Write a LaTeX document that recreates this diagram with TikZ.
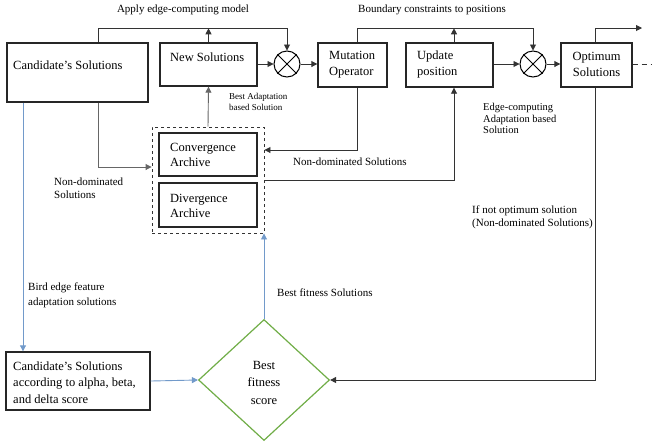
\documentclass[tikz,border=0pt]{standalone}
\usepackage{fontspec}
\setmainfont{Liberation Serif}
\usetikzlibrary{arrows.meta,shapes.geometric,calc}
\definecolor{bluearr}{RGB}{79,129,189}
\definecolor{greendia}{RGB}{112,173,71}
\begin{document}
\begin{tikzpicture}[x=1pt,y=-1pt,
  box/.style={draw=black!85,line width=1.4pt,inner sep=0pt},
  boxtxt/.style={font=\fontsize{12.5}{15.5}\selectfont,align=left,inner sep=0pt},
  lbl/.style={font=\fontsize{11}{13}\selectfont,align=left,inner sep=0pt},
  slbl/.style={font=\fontsize{9}{11}\selectfont,align=left,inner sep=0pt},
  conn/.style={draw=black!80,line width=0.9pt},
  gconn/.style={draw=black!60,line width=0.9pt},
  arr/.style={-{Triangle[length=6pt,width=6pt]}},
  bconn/.style={draw=bluearr!80,line width=0.9pt,-{Triangle[length=6pt,width=6pt]}},
  mix/.style={circle,draw=black,line width=1pt,minimum size=26pt,inner sep=0pt}]
\useasboundingbox (0,0) rectangle (652,445);

% boxes
\node[box,minimum width=141pt,minimum height=59pt] (cand) at (77.5,72.5) {};
\node[box,minimum width=97pt,minimum height=43pt] (new) at (208.5,64.5) {};
\node[box,minimum width=69pt,minimum height=44pt] (mut) at (352.5,65) {};
\node[box,minimum width=87pt,minimum height=44pt] (upd) at (449.5,65) {};
\node[box,minimum width=71pt,minimum height=44pt] (opt) at (596.5,65) {};
\node[mix] (m1) at (287,64) {};
\node[mix] (m2) at (533,64) {};
\draw[line width=1pt] (m1.north east) -- (m1.south west) (m1.north west) -- (m1.south east);
\draw[line width=1pt] (m2.north east) -- (m2.south west) (m2.north west) -- (m2.south east);
\node[draw=black!80,dashed,line width=0.9pt,minimum width=112pt,minimum height=106pt,inner sep=0pt] (arch) at (208,180) {};
\node[box,minimum width=98pt,minimum height=43pt] (conv) at (208,154.5) {};
\node[box,minimum width=98pt,minimum height=44pt] (div) at (208,205) {};
\node[box,minimum width=144pt,minimum height=58pt] (cand2) at (78,381) {};
\node[diamond,draw=greendia,line width=1.2pt,minimum width=131pt,minimum height=121pt,inner sep=0pt] (dia) at (264,380) {};

% helper coordinates
\coordinate (xa) at (98,0);
\coordinate (xb) at (357,0);
\coordinate (xc) at (454,0);
\coordinate (xd) at (595,0);
\coordinate (xe) at (23,0);
\coordinate (ya) at (0,150);
\coordinate (yb) at (0,167);
\coordinate (yc) at (0,380);
\coordinate (re) at (652,64);
\coordinate (topr) at (642,28);

% connectors top row
\draw[conn,arr] (cand.north -| xa) -- ++(0,-14) -| (m1.north);
\draw[conn,arr] (new.north) -- ++(0,-14);
\draw[conn,arr] (new.east |- m1) -- (m1.west);
\draw[conn,arr] (m1.east) -- (mut.west |- m1);
\draw[conn,arr] (mut.north -| xb) -- ++(0,-14) -| (m2.north);
\draw[conn,arr] (upd.north -| xc) -- ++(0,-14);
\draw[conn,arr] (upd.east |- m2) -- (m2.west);
\draw[conn,arr] (m2.east) -- (opt.west |- m2);
\draw[conn,arr] (opt.north -| xd) |- (topr);
\draw[conn,dash pattern=on 5pt off 4pt] (opt.east |- re) -- (re);

% archive connections
\draw[gconn,arr] (arch.north) -- (new.south);
\draw[conn,arr] (mut.south -| xb) |- (arch.east |- ya);
\draw[conn,arr] (arch.east) -| (upd.south -| xc);
\draw[gconn,arr] (cand.south -| xa) |- (arch.west |- yb);

% lower part
\draw[bconn] (cand.south -| xe) -- (cand2.north -| xe);
\draw[bconn] (cand2.east) -- (dia.west);
\draw[bconn] (dia.north) -- (dia.north |- arch.south);
\draw[conn,arr] (opt.south -| xd) |- (dia.east);

% texts
\node[lbl,anchor=center] (t1) at (183,10) {Apply edge-computing model};
\node[lbl,anchor=center] (t2) at (432,10) {Boundary constraints to positions};
\node[boxtxt,anchor=west] (t3) at (13,65) {Candidate’s Solutions};
\node[boxtxt,anchor=west] (t4) at (170,57) {New Solutions};
\node[boxtxt,anchor=west] (t5) at (329,64.5) {Mutation\\Operator};
\node[boxtxt,anchor=west] (t6) at (417,64.5) {Update\\position};
\node[boxtxt,align=center] (t7) at (596.5,64.5) {Optimum\\Solutions};
\node[slbl,anchor=west] (t8) at (229,101.5) {Best Adaptation\\based Solution};
\node[lbl,anchor=west,font=\fontsize{10.5}{11.5}\selectfont] (t9) at (483,118.5) {Edge-computing\\Adaptation based\\Solution};
\node[boxtxt,anchor=west] (t10) at (170,155) {Convergence\\Archive};
\node[boxtxt,anchor=west] (t11) at (170,206) {Divergence\\Archive};
\node[lbl,anchor=west] (t12) at (293,162) {Non-dominated Solutions};
\node[lbl,anchor=west] (t13) at (54,188.5) {Non-dominated\\Solutions};
\node[lbl,anchor=west] (t14) at (472,217.5) {If not optimum solution\\(Non-dominated Solutions)};
\node[lbl,anchor=west,font=\fontsize{11}{14.5}\selectfont] (t15) at (28,295.5) {Bird edge feature\\adaptation solutions};
\node[lbl,anchor=west] (t16) at (277,293) {Best fitness Solutions};
\node[boxtxt,anchor=west,font=\fontsize{12.5}{16.5}\selectfont] (t17) at (13,382.5) {Candidate’s Solutions\\according to alpha, beta,\\and delta score};
\node[boxtxt,align=center,font=\fontsize{12.5}{17.5}\selectfont] (t18) at (264,382.5) {Best\\fitness\\score};
\end{tikzpicture}
\end{document}
